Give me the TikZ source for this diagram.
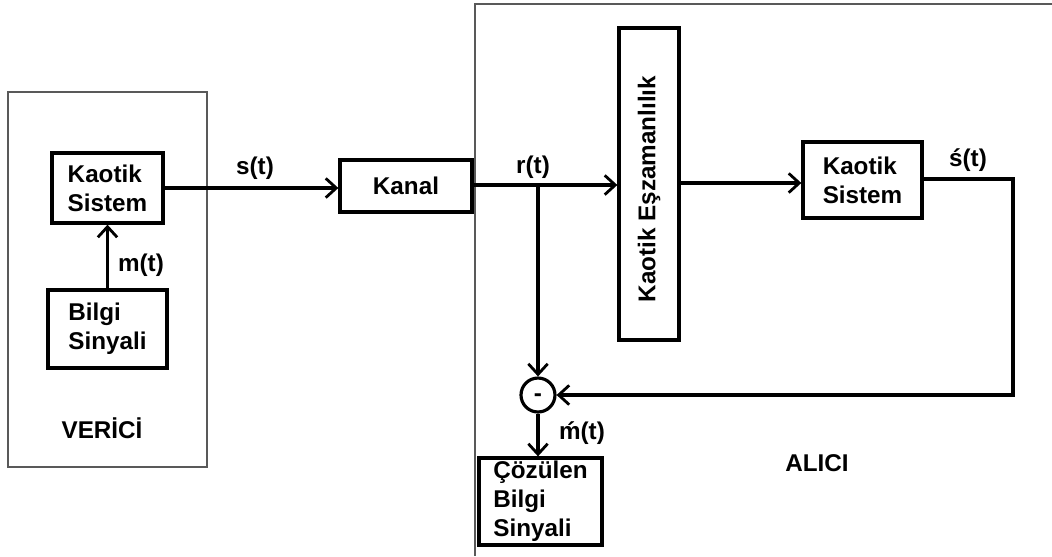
\documentclass[tikz,border=0pt]{standalone}
\usepackage{fontspec}
\setmainfont{Liberation Sans}
\usetikzlibrary{arrows.meta,calc}
\begin{document}
\begin{tikzpicture}[x=0.02cm,y=-0.02cm,
  every node/.style={font=\fontsize{13.8}{16.5}\selectfont\bfseries},
  blk/.style={draw,line width=1.9pt,inner sep=0pt,align=left},
  con/.style={line width=1.8pt},
  arr/.style={con,-{Straight Barb[length=6pt,width=11pt,line width=1.6pt]}},
  frame/.style={draw=black!65,line width=0.7pt},
  lbl/.style={inner sep=0pt}
]
\useasboundingbox (0,0) rectangle (1052,556);
% frames
\draw[frame] (8,92) rectangle (207,467);
\draw[frame] (1052,4) -- (475,4) -- (475,556);
% blocks
\node[blk,minimum width=2.22cm,minimum height=1.40cm] (ks1) at (107.5,188) {Kaotik\\Sistem};
\node[blk,minimum width=2.38cm,minimum height=1.56cm] (bs) at (107.5,329) {Bilgi\\Sinyali};
\node[blk,minimum width=2.64cm,minimum height=1.04cm] (kanal) at (406,186) {Kanal};
\node[blk,minimum width=1.20cm,minimum height=6.24cm] (esz) at (649,184) {};
\node[rotate=90,lbl] (eszt) at (649,189) {Kaotik Eşzamanlılık};
\node[blk,minimum width=2.38cm,minimum height=1.52cm] (ks2) at (862.5,180) {Kaotik\\Sistem};
\node[draw,circle,line width=1.8pt,minimum size=0.68cm,inner sep=0pt,text height=7.4pt,text depth=0pt] (sum) at (538,395) {-};
\node[blk,minimum width=2.46cm,minimum height=1.74cm] (coz) at (540.5,501.5) {Çözülen\\Bilgi\\Sinyali};
% labels
\node[lbl] (lm) at (141,265) {m(t)};
\node[lbl] (ls) at (255,168) {s(t)};
\node[lbl] (lr) at (533,167) {r(t)};
\node[lbl] (ls2) at (968,160) {ś(t)};
\node[lbl] (lm2) at (582,433) {ḿ(t)};
\node[lbl] (verici) at (102,428) {VERİCİ};
\node[lbl] (alici) at (817,463) {ALICI};
% connectors
\coordinate (br) at (538,185);
\coordinate (fb) at (1013,179);
\draw[arr] (bs.north) -- (ks1.south);
\draw[arr] (ks1.east) -- (ks1.east -| kanal.west);
\draw[arr] (kanal.east |- br) -- (br -| esz.west);
\draw[arr] (br) -- (sum.north);
\draw[arr] (esz.east |- 0,183) -- (ks2.west |- 0,183);
\draw[arr] (ks2.east |- fb) -- (fb) -- (fb |- sum) -- (sum.east);
\draw[arr] (sum.south) -- (sum.south |- coz.north);
\end{tikzpicture}
\end{document}
